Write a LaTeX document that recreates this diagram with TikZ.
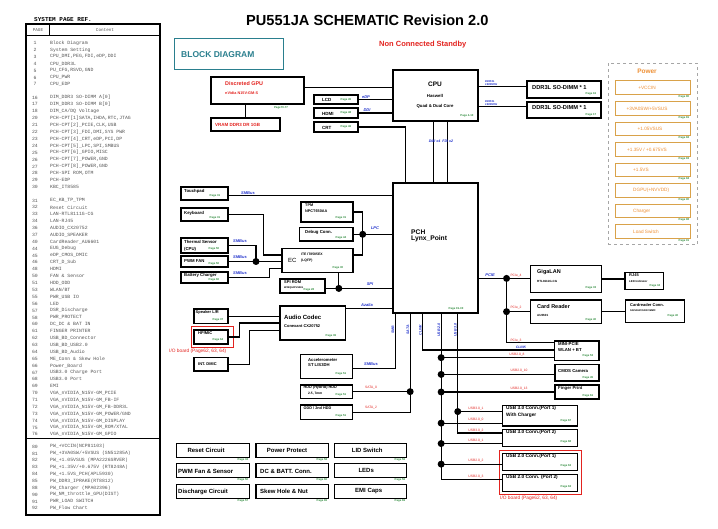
\documentclass[tikz,border=0pt]{standalone}
\usepackage{fontspec}
\setmainfont{Liberation Sans}
\setmonofont{Liberation Mono}
\usetikzlibrary{fit,calc}
\definecolor{tealc}{HTML}{2A7F8E}
\definecolor{redc}{HTML}{E3231F}
\definecolor{orc}{HTML}{EE9035}
\definecolor{orb}{HTML}{D9A24A}
\definecolor{grc}{HTML}{2E8B3C}
\definecolor{blc}{HTML}{2233CC}
\definecolor{tabc}{HTML}{555555}
\newcounter{tn}
\newcommand\fs[1]{\fontsize{#1}{#1}\selectfont}
\newcommand\tx[4][bt]{\stepcounter{tn}\edef\tnm{t\arabic{tn}}\node[#1] (\tnm) at (#2,#3) {#4};}
\newcommand\bx[6][bxs]{\node[#1,fit={(#3,#4) (#5,#6)}] (#2) {};}
\newcommand\rw[3]{\node[rwn] (n#2) at (35,#1) {#2};\node[rwt] (c#2) at (50,#1) {#3};}
\tikzset{
 bxs/.style={draw, line width=1.1pt, inner sep=0pt},
 obx/.style={draw=orb, line width=1pt, inner sep=0pt},
 rbx/.style={draw=redc, line width=0.9pt, inner sep=0pt},
 bt/.style={inner sep=0pt, anchor=west, font=\fs{4.3}\bfseries},
 pgs/.style={inner sep=0pt, font=\fs{2.8}\bfseries, text=grc},
 bl/.style={inner sep=0pt, font=\fs{4}\bfseries\itshape, text=blc},
 rl/.style={inner sep=0pt, font=\fs{3.3}, text=redc},
 wire/.style={line width=1.1pt},
 jn/.style={circle, fill=black, inner sep=0pt, minimum size=7pt},
 rwn/.style={inner sep=0pt, font=\ttfamily\fs{4.8}, text=tabc},
 rwt/.style={rwn, anchor=west},
 ort/.style={inner sep=0pt, font=\fs{4.7}, text=orc},
}
\begin{document}
\begin{tikzpicture}[x=1pt,y=-1pt]
\useasboundingbox (0,0) rectangle (718,529);
\fill[white] (0,0) rectangle (718,529);

% ---------------- page reference table
\node[inner sep=0pt, anchor=west, font=\ttfamily\bfseries\fs{6}] (tabtitle) at (34,19.5) {SYSTEM PAGE REF.};
\bx[draw, line width=1.1pt, inner sep=0pt]{tab}{26}{24}{160}{515}
\draw[line width=0.8pt] (tab.north west) ++(0,12) coordinate (h1) -- (h1 -| tab.east);
\draw[line width=0.8pt] ($(tab.north west)+(24,0)$) -- ($(tab.north west)+(24,12)$);
\draw[line width=1.1pt] ($(tab.north west)+(0,415.3)$) coordinate (h2) -- (h2 -| tab.east);
\node[rwn, font=\ttfamily\fs{4.3}] (hpage) at (38,30) {PAGE};
\node[rwn, font=\ttfamily\fs{4.3}] (hcont) at (105,30) {Content};
\rw{43.0}{1}{Block Diagram}
\rw{49.9}{2}{System Setting}
\rw{56.8}{3}{CPU\_DMI,PEG,FDI,eDP,DDI}
\rw{63.7}{4}{CPU\_DDR3L}
\rw{70.6}{5}{PU\_CFG,RSVD,GND}
\rw{77.5}{6}{CPU\_PWR}
\rw{84.4}{7}{CPU\_EDP}
\rw{97.5}{16}{DIM\_DDR3 SO-DIMM A[0]}
\rw{104.4}{17}{DIM\_DDR3 SO-DIMM B[0]}
\rw{111.3}{18}{DIM\_CA/DQ Voltage}
\rw{118.2}{20}{PCH-CPT[1]SATA,IHDA,RTC,JTAG}
\rw{125.1}{21}{PCH-CPT[2]\_PCIE,CLK,USB}
\rw{132.0}{22}{PCH-CPT[3]\_FDI,DMI,SYS PWR}
\rw{138.9}{23}{PCH-CPT[4]\_CRT,eDP,PCI,DP}
\rw{145.8}{24}{PCH-CPT[5]\_LPC,SPI,SMBUS}
\rw{152.7}{25}{PCH-CPT[6]\_GPIO,MISC}
\rw{159.6}{26}{PCH-CPT[7]\_POWER,GND}
\rw{166.5}{27}{PCH-CPT[8]\_POWER,GND}
\rw{173.4}{28}{PCH-SPI ROM,OTM}
\rw{180.3}{29}{PCH-EDP}
\rw{187.2}{30}{KBC\_IT8585}
\rw{200.5}{31}{EC\_KB\_TP\_TPM}
\rw{207.4}{32}{Reset Circuit}
\rw{214.3}{33}{LAN-RTL8111G-CG}
\rw{221.1}{34}{LAN-RJ45}
\rw{228.0}{36}{AUDIO\_CX20752}
\rw{234.9}{37}{AUDIO\_SPEAKER}
\rw{241.8}{40}{CardReader\_AU6601}
\rw{248.7}{44}{EUG\_Debug}
\rw{255.5}{45}{eDP\_CMOS\_DMIC}
\rw{262.4}{46}{CRT\_D\_Sub}
\rw{269.3}{48}{HDMI}
\rw{276.2}{50}{FAN \& Sensor}
\rw{283.1}{51}{HDD\_ODD}
\rw{289.9}{53}{WLAN/BT}
\rw{296.8}{55}{PWR\_USB IO}
\rw{303.7}{56}{LED}
\rw{310.6}{57}{DSR\_Discharge}
\rw{317.5}{58}{PWR\_PROTECT}
\rw{324.3}{60}{DC\_DC \& BAT IN}
\rw{331.2}{61}{FINGER PRINTER}
\rw{338.1}{62}{USB\_BD\_Connector}
\rw{345.0}{63}{USB\_BD\_USB2.0}
\rw{351.9}{64}{USB\_BD\_Audio}
\rw{358.7}{65}{ME\_Conn \& Skew Hole}
\rw{365.6}{66}{Power\_Board}
\rw{372.5}{67}{USB3.0 Charge Port}
\rw{379.4}{68}{USB3.0 Port}
\rw{386.3}{69}{EMI}
\rw{393.1}{70}{VGA\_nVIDIA\_N15V-GM\_PCIE}
\rw{400.0}{71}{VGA\_nVIDIA\_N15V-GM\_FB-IF}
\rw{406.9}{72}{VGA\_nVIDIA\_N15V-GM\_FB-DDR3L}
\rw{413.8}{73}{VGA\_nVIDIA\_N15V-GM\_POWER/GND}
\rw{420.7}{74}{VGA\_nVIDIA\_N15V-GM\_DISPLAY}
\rw{427.5}{75}{VGA\_nVIDIA\_N15V-GM\_ROM/XTAL}
\rw{434.4}{76}{VGA\_nVIDIA\_N15V-GM\_GPIO}
\rw{446.7}{80}{PW\_+VCCIN(NCP81103)}
\rw{453.6}{81}{PW\_+3VA0SW/+5VSUS (SN51285A)}
\rw{460.4}{82}{PW\_+1.05VSUS (MPA2226SRVER)}
\rw{467.3}{83}{PW\_+1.35V/+0.675V (RT8248A)}
\rw{474.1}{84}{PW\_+1.5VS\_PCH(APL5930)}
\rw{481.0}{85}{PW\_DDR3\_IPRAKE(RT8812)}
\rw{487.8}{88}{PW\_Charger (MPA02396)}
\rw{494.7}{90}{PW\_NM\_throttle\_GPU(DIST)}
\rw{501.5}{91}{PWR\_LOAD SWITCH}
\rw{508.4}{92}{PW\_Flow Chart}

% ---------------- titles
\node[inner sep=0pt, anchor=west, font=\fs{14.6}\bfseries] (title) at (246,20.5) {PU551JA SCHEMATIC Revision 2.0};
\node[inner sep=0pt, anchor=west, font=\fs{7.5}\bfseries, text=redc] (ncs) at (379,44.5) {Non Connected Standby};
\bx[draw=tealc, line width=1pt, inner sep=0pt]{bd}{174}{39}{283}{70}
\node[inner sep=0pt, anchor=west, font=\fs{8.5}\bfseries, text=tealc] (bdt) at (181,54.5) {BLOCK DIAGRAM};

% ---------------- GPU / displays / CPU / DDR
\bx{gpu}{211}{77}{304}{104}
\tx[bt, font=\fs{5.4}\bfseries, text=redc]{225}{84}{Discreted GPU}
\tx[bt, font=\fs{3.8}\bfseries, text=redc]{225}{93}{nVidia N15V-GM-S}
\tx[pgs]{281}{107.5}{Page70-77}
\bx{vram}{211}{118}{280}{131}
\tx[bt, font=\fs{4.5}\bfseries, text=redc]{215}{124.5}{VRAM DDR3 DR 1GB}
\draw[wire] (vram.north) -- (vram.north |- gpu.south);

\bx{lcd}{314}{95}{358}{104}
\bx{hdmi}{314}{108}{358}{118}
\bx{crt}{314}{122}{358}{132}
\tx[bt, font=\fs{4.5}\bfseries]{322}{100}{LCD}
\tx[bt, font=\fs{4.5}\bfseries]{322}{113.5}{HDMI}
\tx[bt, font=\fs{4.5}\bfseries]{322}{127.5}{CRT}
\tx[pgs]{346}{99.5}{Page 45}
\tx[pgs]{346}{113}{Page 48}
\tx[pgs]{346}{127}{Page 46}

\bx{cpu}{393}{70}{478}{121}
\tx[bt, anchor=center, font=\fs{6.5}\bfseries]{435}{84}{CPU}
\tx[bt, anchor=center, font=\fs{4.3}\bfseries]{435}{96}{Haswell}
\tx[bt, anchor=center, font=\fs{4.3}\bfseries]{435}{106.5}{Quad \& Dual Core}
\tx[pgs]{467}{116}{Page 4-10}

\bx{ddra}{527}{81}{601}{98}
\bx{ddrb}{527}{102}{601}{118}
\tx[bt, font=\fs{5.7}\bfseries]{532}{87.5}{DDR3L SO-DIMM * 1}
\tx[bt, font=\fs{5.7}\bfseries]{532}{108}{DDR3L SO-DIMM * 1}
\tx[pgs]{591}{94}{Page 16}
\tx[pgs]{591}{114.5}{Page 17}

\bx{pch}{393}{183}{478}{313}
\tx[bt, font=\fs{6.7}\bfseries]{411}{232}{PCH}
\tx[bt, font=\fs{6.7}\bfseries]{411}{239}{Lynx\_Point}
\tx[pgs]{456}{309}{Page 19-30}

% connectors top
\coordinate (gpuR) at ($(gpu.north east)!0.4!(gpu.south east)$);
\draw[wire] (gpuR) -- (gpuR -| cpu.west);
\draw[wire] (lcd.east) -- (lcd.east -| cpu.west);
\draw[wire] (hdmi.east) -- (hdmi.east -| cpu.west);
\coordinate (pchA) at ($(pch.north west)+(13,0)$);
\draw[wire] (crt.east) -| (pchA);
\tx[bl]{366}{97}{eDP}
\tx[bl]{367}{110}{DDI}
\coordinate (ddrAL) at ($(ddra.north west)!0.35!(ddra.south west)$);
\coordinate (ddrBL) at ($(ddrb.north west)!0.3!(ddrb.south west)$);
\draw[wire] (ddrAL -| cpu.east) -- (ddrAL);
\draw[wire] (ddrBL -| cpu.east) -- (ddrBL);
\tx[bl, font=\fs{2.8}\bfseries\itshape, align=left, anchor=south west]{485}{86}{DDR3L\\1600MHz}
\tx[bl, font=\fs{2.8}\bfseries\itshape, align=left, anchor=south west]{485}{106}{DDR3L\\1600MHz}
\coordinate (cA) at ($(cpu.south west)+(41,0)$);
\coordinate (cB) at ($(cpu.south west)+(55,0)$);
\draw[wire] (cA) -- (cA |- pch.north);
\draw[wire] (cB) -- (cB |- pch.north);
\tx[bl, font=\fs{3.6}\bfseries\itshape]{441}{141}{DMI x4 \ FDI x2}

% ---------------- Power column
\bx[draw=gray!70, dashed, line width=0.5pt, inner sep=0pt]{pwr}{608.3}{63.3}{697.7}{244.3}
\tx[bt, anchor=center, font=\fs{6.5}\bfseries, text=orc]{647}{71.7}{Power}
\bx[obx]{pw1}{615}{80.7}{690.7}{94.2}
\bx[obx]{pw2}{615}{101.7}{690.7}{115.2}
\bx[obx]{pw3}{615}{122.3}{690.7}{135.8}
\bx[obx]{pw4}{615}{142.7}{690.7}{156.2}
\bx[obx]{pw5}{615}{163.3}{690.7}{176.8}
\bx[obx]{pw6}{615}{184}{690.7}{197.5}
\bx[obx]{pw7}{615}{204.3}{690.7}{217.8}
\bx[obx]{pw8}{615}{225}{690.7}{238.5}
\tx[ort]{647}{87.5}{+VCCIN}
\tx[ort]{647}{108.4}{+3VA0SW/+5VSUS}
\tx[ort]{650}{129}{+1.05VSUS}
\tx[ort]{647}{149.4}{+1.35V / +0.675VS}
\tx[ort, anchor=west]{633}{170}{+1.5VS}
\tx[ort, anchor=west]{633}{190.7}{DGPU(+NVVDD)}
\tx[ort, anchor=west]{633}{211}{Charger}
\tx[ort, anchor=west]{633}{231.7}{Load Switch}
\tx[pgs]{684}{96.5}{Page 80}
\tx[pgs]{684}{117.5}{Page 81}
\tx[pgs]{684}{138}{Page 82}
\tx[pgs]{684}{158.5}{Page 83}
\tx[pgs]{684}{179}{Page 84}
\tx[pgs]{684}{199.8}{Page 90}
\tx[pgs]{684}{220}{Page 88}
\tx[pgs]{684}{240.8}{Page 91}

% ---------------- left peripherals
\bx{tp}{181}{187}{228}{200}
\tx{184}{191}{Touchpad}
\tx[pgs]{215}{195.5}{Page 31}
\bx{kb}{181}{208}{228}{221}
\tx{184}{213}{Keyboard}
\tx[pgs]{215}{217.5}{Page 31}
\bx{ths}{181}{238}{228}{253}
\tx{184}{241.5}{Thermal Sensor}
\tx{184}{249}{(CPU)}
\tx[pgs]{214}{249}{Page 50}
\bx{pwm}{181}{256}{228}{267}
\tx{184}{261}{PWM FAN}
\tx[pgs]{214}{263.5}{Page 50}
\bx{bat}{181}{272}{228}{283}
\tx{184}{275.5}{Battery Charger}
\tx[pgs]{214}{280}{Page 60}

\bx{tpm}{301}{202}{353}{222}
\tx[bt, font=\fs{3.8}\bfseries]{305}{205.5}{TPM}
\tx[bt, font=\fs{3.8}\bfseries]{305}{211.5}{NPCT650AA}
\tx[pgs]{341}{218}{Page 31}
\bx{dbg}{299.5}{227.5}{353}{241}
\tx{305}{232}{Debug Conn.}
\tx[pgs]{341}{237.5}{Page 44}
\bx{ec}{282}{248.5}{353}{272.5}
\tx[bt, font=\fs{6}]{288}{260}{EC}
\tx[bt, font=\fs{3.4}\bfseries]{301}{254.5}{ITE IT8585EX}
\tx[bt, font=\fs{3.4}\bfseries]{301}{260.5}{(LQFP)}
\tx[pgs]{338}{268}{Page 30}
\bx{spi}{280}{279}{325}{293}
\tx[bt, font=\fs{4}\bfseries]{284}{282.5}{SPI ROM}
\tx[bt, font=\fs{2.5}\bfseries]{284}{287.5}{W25Q64FVSSIG}
\tx[pgs]{309}{290}{Page 28}

\coordinate (tpR) at ($(tp.north east)!0.65!(tp.south east)$);
\draw[wire] (tpR) -- (tpR -| pch.west);
\tx[bl]{248}{193}{SMBus}
\coordinate (ecA) at ($(ec.north west)!0.28!(ec.south west)$);
\draw[wire] (kb.east) -- ++(35,0) |- (ecA);
\node[jn] (d1) at (256,261.5) {};
\draw[wire] (ths.east) -| (d1.center);
\draw[wire] (pwm.east |- d1) -- (d1.center) -- (d1 -| ec.west);
\coordinate (ecC) at ($(ec.north west)!0.83!(ec.south west)$);
\draw[wire] (bat.east) -- ++(41,0) |- (ecC);
\tx[bl]{240}{241}{SMBus}
\tx[bl]{240}{257.5}{SMBus}
\tx[bl]{240}{273.5}{SMBus}
\node[jn] (d2) at (362.7,234.3) {};
\draw[wire] (tpm.east) -| (d2.center);
\draw[wire] (dbg.east |- d2) -- (d2.center) -- (d2 -| pch.west);
\coordinate (ecR) at ($(ec.north east)!0.28!(ec.south east)$);
\draw[wire] (ecR) -| (d2.center);
\tx[bl]{375}{228.5}{LPC}
\coordinate (spiR) at ($(spi.north east)!0.66!(spi.south east)$);
\node[jn] (d3) at ($(spiR)+(13.3,0)$) {};
\draw[wire] (spiR) -- (d3.center) -- (d3 -| pch.west);
\draw[wire] (d3.center) -- (d3 |- ec.south);
\tx[bl]{370}{284}{SPI}

% ---------------- audio
\bx{spk}{194}{309}{228}{323.5}
\tx[bt, font=\fs{4}\bfseries]{195.5}{312.5}{Speaker L/R}
\tx[pgs]{218}{319.5}{Page 37}
\bx[rbx]{ioa}{191}{326}{233}{347.5}
\bx{hp}{194}{330}{228}{344}
\tx[bt, font=\fs{4}\bfseries]{198}{333.5}{HP/MIC}
\tx[pgs]{218}{339.5}{Page 64}
\tx[bt, anchor=east, font=\fs{4.8}, text=redc]{226.5}{350.8}{I/O board (Page62, 63, 64)}
\bx{dmic}{194}{357.5}{228}{371}
\tx[bt, font=\fs{4}\bfseries]{198}{364}{INT. DMIC}
\bx{codec}{280}{306}{345.7}{340}
\tx[bt, font=\fs{6}\bfseries]{284}{317}{Audio Codec}
\tx[bt, font=\fs{4}\bfseries]{284}{326}{Conexant CX20752}
\tx[pgs]{331}{335.5}{Page 36}
\draw[wire] (spk.east) -- (spk.east -| codec.west);
\draw[wire] (hp.east) -- ++(11,0) |- (codec.west);
\coordinate (codecC) at ($(codec.north west)!0.726!(codec.south west)$);
\draw[wire] (dmic.east) -- ++(21,0) |- (codecC);
\coordinate (codecR) at ($(codec.north east)!0.09!(codec.south east)$);
\draw[wire] (codecR) -- (codecR -| pch.west);
\tx[bl]{367}{305}{Azalia}

% ---------------- accelerometer / storage
\bx{acc}{300.5}{354.5}{352.7}{378.5}
\tx[bt, font=\fs{4.2}\bfseries]{308}{359.8}{Accelerometer}
\tx[bt, font=\fs{4.2}\bfseries]{308}{365.5}{ST LIS3DH}
\tx[pgs]{341}{374}{Page 51}
\bx{hdd}{300.5}{385}{352.7}{398.3}
\tx[bt, font=\fs{3.8}\bfseries]{303.5}{388}{HDD (Hybrid) HDD}
\tx[bt, font=\fs{3.3}\bfseries]{308}{394}{2.5, 7mm}
\tx[pgs]{341}{394.5}{Page 51}
\bx{odd}{300.5}{405}{352.7}{419.3}
\tx[bt, font=\fs{3.8}\bfseries]{303.5}{408.5}{ODD / 2nd HDD}
\tx[pgs]{341}{415.5}{Page 51}

\coordinate (s1) at ($(pch.south west)+(2.7,0)$);
\coordinate (s2) at ($(pch.south west)+(17.7,0)$);
\coordinate (s3) at ($(pch.south west)+(30.3,0)$);
\coordinate (s4) at ($(pch.south west)+(48.7,0)$);
\coordinate (s5) at ($(pch.south west)+(65.3,0)$);
\coordinate (accR) at ($(acc.north east)!0.57!(acc.south east)$);
\draw[wire] (accR) -| (s1);
\tx[bl]{371}{364}{SMBus}
\draw[wire] (s2) |- (odd.east);
\node[jn] (d4) at (s2 |- hdd.east) {};
\draw[wire] (hdd.east) -- (d4.center);
\tx[rl]{371}{388}{SATA\_0}
\tx[rl]{371}{407.5}{SATA\_2}
\tx[bl, rotate=90, font=\fs{3.6}\bfseries\itshape]{393}{330}{SMB}
\tx[bl, rotate=90, font=\fs{3.6}\bfseries\itshape]{408}{330}{SATA}
\tx[bl, rotate=90, font=\fs{3.6}\bfseries\itshape]{420.5}{330}{CLINK}
\tx[bl, rotate=90, font=\fs{3.6}\bfseries\itshape]{439}{330}{USB 2.0}
\tx[bl, rotate=90, font=\fs{3.6}\bfseries\itshape]{455.5}{330}{USB 3.0}

% ---------------- right side devices
\bx{lan}{530.7}{265.7}{601.7}{292.3}
\tx[bt, font=\fs{5.5}\bfseries]{537}{272}{GigaLAN}
\tx[bt, font=\fs{3}\bfseries]{537}{281.3}{RTL8111G-CG}
\tx[pgs]{591}{288}{Page 33}
\bx{rj}{625}{272.7}{663.3}{289.3}
\tx[bt, font=\fs{4}\bfseries]{629}{275.5}{RJ45}
\tx[bt, font=\fs{2.8}\bfseries]{629}{281.5}{LED Indicator}
\tx[pgs]{655}{285.5}{Page 34}
\bx{cr}{530.7}{300}{601.7}{323.3}
\tx[bt, font=\fs{5.5}\bfseries]{537}{306.7}{Card Reader}
\tx[bt, font=\fs{3}\bfseries]{537}{315}{AU6601}
\tx[pgs]{591}{319.5}{Page 40}
\bx{crc}{625.7}{300}{684.3}{322.5}
\tx[bt, font=\fs{4}\bfseries]{630}{305}{Cardreader Conn.}
\tx[bt, font=\fs{2.5}\bfseries]{630}{311}{SD/SDHC/SDXC/MMC}
\tx[pgs]{673}{316}{Page 40}
\draw[wire] (lan.east) -- (lan.east -| rj.west);
\draw[wire] (cr.east) -- (cr.east -| crc.west);

\bx{mini}{554.3}{341}{599}{360.7}
\tx[bt, font=\fs{4.3}\bfseries]{558}{344}{MINI-PCIE}
\tx[bt, font=\fs{4.3}\bfseries]{558}{350.5}{WLAN + BT}
\tx[pgs]{588}{356}{Page 53}
\bx{cam}{555}{364.3}{599}{381}
\tx[bt, font=\fs{4.3}\bfseries]{558}{371.5}{CMOS Camera}
\tx[pgs]{588}{377.5}{Page 45}
\bx{fp}{555}{385}{599}{399}
\tx[bt, font=\fs{4.3}\bfseries]{558}{388.5}{Finger Print}
\tx[pgs]{588}{395.5}{Page 61}

\bx{uta}{502.3}{405.7}{577.3}{426}
\tx[bt, font=\fs{4.8}\bfseries]{506}{408.5}{USB 3.0 Conn.(Port 1)}
\tx[bt, font=\fs{4.8}\bfseries]{506}{415.3}{With Charger}
\tx[pgs]{566}{421}{Page 67}
\bx{utb}{502.3}{429.3}{577.3}{446.7}
\tx[bt, font=\fs{4.8}\bfseries]{506}{432.5}{USB 3.0 Conn.(Port 2)}
\tx[pgs]{566}{442}{Page 68}
\bx{uwa}{502.3}{453.3}{577.3}{470.7}
\tx[bt, font=\fs{4.8}\bfseries]{506}{456.3}{USB 2.0 Conn.(Port 1)}
\tx[pgs]{566}{466}{Page 63}
\bx{uwb}{502.3}{474.3}{577.3}{491.7}
\tx[bt, font=\fs{4.8}\bfseries]{506}{477.3}{USB 2.0 Conn. (Port 2)}
\tx[pgs]{566}{487}{Page 63}
\bx[rbx]{iob}{499}{450}{581.7}{494.3}
\tx[bt, font=\fs{4.8}, text=redc]{500}{497.8}{I/O board (Page62, 63, 64)}

% PCIe tree
\coordinate (pchR) at ($(pch.north east)!0.732!(pch.south east)$);
\node[jn] (d5) at ($(pchR)+(28,0)$) {};
\draw[wire] (pchR) -- (pchR -| lan.west);
\node[jn] (d6) at (d5 |- cr.west) {};
\draw[wire] (d5.center) -- (d6.center) -- (cr.west);
\coordinate (miniA) at ($(mini.north west)!0.117!(mini.south west)$);
\coordinate (miniB) at ($(mini.north west)!0.457!(mini.south west)$);
\coordinate (miniC) at ($(mini.north west)!0.827!(mini.south west)$);
\draw[wire] (d6.center) |- (miniA);
\tx[bl]{490}{275}{PCIE}
\tx[rl]{516}{275.5}{PCIe\_4}
\tx[rl]{516}{307.5}{PCIe\_2}
\tx[rl]{516}{340.3}{PCIe\_3}
% CLink
\draw[wire] (s3) |- (miniB);
\tx[bl, font=\fs{3.4}\bfseries\itshape]{521}{347.3}{CLINK}
% USB 2.0 tree
\coordinate (camL) at ($(cam.north west)!0.6!(cam.south west)$);
\coordinate (utaB) at ($(uta.north west)!0.84!(uta.south west)$);
\coordinate (utbB) at ($(utb.north west)!0.8!(utb.south west)$);
\coordinate (uwaL) at ($(uwa.north west)!0.615!(uwa.south west)$);
\coordinate (uwbL) at ($(uwb.north west)!0.33!(uwb.south west)$);
\draw[wire] (s4) |- (uwbL);
\foreach \t [count=\i] in {miniC,camL,fp.west,utaB,utbB,uwaL}{
  \node[jn] (ju\i) at (s4 |- \t) {};
  \draw[wire] (ju\i.center) -- (\t);
}
\tx[rl]{517}{354.5}{USB2.0\_8}
\tx[rl]{519}{371}{USB2.0\_10}
\tx[rl]{519}{388.5}{USB2.0\_13}
% USB 3.0 tree
\coordinate (utaA) at ($(uta.north west)!0.3!(uta.south west)$);
\coordinate (utbA) at ($(utb.north west)!0.23!(utb.south west)$);
\draw[wire] (s5) |- (utbA);
\node[jn] (jv1) at (s5 |- utaA) {};
\draw[wire] (jv1.center) -- (utaA);
\tx[rl]{476}{408.5}{USB3.0\_1}
\tx[rl]{476}{419.5}{USB2.0\_0}
\tx[rl]{476}{430.2}{USB3.0\_2}
\tx[rl]{476}{440.2}{USB2.0\_1}
\tx[rl]{476}{460.8}{USB2.0\_2}
\tx[rl]{476}{476.8}{USB2.0\_3}

% ---------------- bottom boxes
\bx{ba}{176.7}{443.3}{249.3}{457.7}
\bx{bb}{256}{443.3}{328.3}{457.7}
\bx{bc}{334.3}{443.3}{406.7}{457.7}
\bx{bd2}{176.7}{463.3}{249.3}{477.3}
\bx{be}{256}{463.3}{328.3}{477.3}
\bx{bf}{334.3}{463.3}{406.7}{477.3}
\bx{bg}{176.7}{484.3}{249.3}{498.3}
\bx{bh}{256}{484.3}{328.3}{498.3}
\bx{bi}{334.3}{484.3}{406.7}{498.3}
\tx[bt, font=\fs{6}\bfseries]{187.3}{450.6}{Reset Circuit}
\tx[bt, font=\fs{6}\bfseries]{266.7}{450.6}{Power Protect}
\tx[bt, font=\fs{6}\bfseries]{351.7}{450.6}{LID Switch}
\tx[bt, font=\fs{6}\bfseries]{178}{471}{PWM Fan \& Sensor}
\tx[bt, font=\fs{6}\bfseries]{260}{471}{DC \& BATT. Conn.}
\tx[bt, font=\fs{6}\bfseries]{358.3}{470.5}{LEDs}
\tx[bt, font=\fs{6}\bfseries]{178}{491.5}{Discharge Circuit}
\tx[bt, font=\fs{6}\bfseries]{260}{491.5}{Skew Hole \& Nut}
\tx[bt, font=\fs{6}\bfseries]{355}{490.8}{EMI Caps}
\tx[pgs]{243}{459.8}{Page 32}
\tx[pgs]{322}{459.8}{Page 58}
\tx[pgs]{400}{459.8}{Page 56}
\tx[pgs]{243}{479.5}{Page 50}
\tx[pgs]{322}{479.5}{Page 60}
\tx[pgs]{400}{479.5}{Page 56}
\tx[pgs]{243}{500.5}{Page 57}
\tx[pgs]{322}{500.5}{Page 65}
\tx[pgs]{400}{500.5}{Page 69}
\end{tikzpicture}
\end{document}
